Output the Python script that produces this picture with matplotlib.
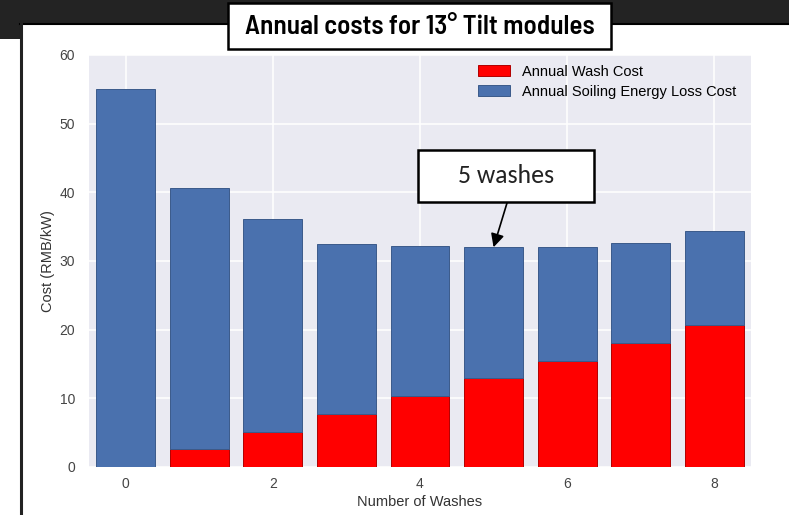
import matplotlib
matplotlib.use("Agg")
import matplotlib.pyplot as plt
from matplotlib.patches import Rectangle
from matplotlib.lines import Line2D

plt.rcParams['font.family'] = ['Liberation Sans', 'DejaVu Sans']

# Data: annual costs per number of washes (RMB/kW)
washes = [0, 1, 2, 3, 4, 5, 6, 7, 8]
wash_cost = [0.0, 2.58, 5.16, 7.74, 10.32, 12.9, 15.48, 18.06, 20.64]
soiling_cost = [55.0, 38.1, 31.0, 24.8, 21.9, 19.1, 16.6, 14.5, 13.7]
xticks = [0, 2, 4, 6, 8]
yticks = [0, 10, 20, 30, 40, 50, 60]

W, H = 789, 515
fig = plt.figure(figsize=(W / 100, H / 100), dpi=100, facecolor='white')


def fx(px):
    return px / W


def fy(py):
    return 1 - py / H


# Dark header strip and frame
fig.patches.append(Rectangle((0, fy(23)), 1, 23 / H, transform=fig.transFigure,
                             facecolor='#232323', edgecolor='none', zorder=0))
fig.patches.append(Rectangle((0, fy(39)), fx(20), 39 / H, transform=fig.transFigure,
                             facecolor='#232323', edgecolor='none', zorder=0))
fig.lines.append(Line2D([fx(20), 1], [fy(23.5), fy(23.5)], transform=fig.transFigure,
                        color='black', lw=1.5, zorder=1))
fig.lines.append(Line2D([fx(21), fx(21)], [fy(23), 0], transform=fig.transFigure,
                        color='#222222', lw=2.2, zorder=1))

ax = fig.add_axes([fx(89), fy(467), fx(751) - fx(89), fy(55) - fy(467)])
ax.set_facecolor('#EAEAF2')
for s in ax.spines.values():
    s.set_visible(False)
ax.grid(True, color='white', lw=1.1)
ax.set_axisbelow(True)

ax.bar(washes, wash_cost, width=0.8, color='#FF0000', edgecolor='#b00000',
       lw=0.7, label='Annual Wash Cost')
ax.bar(washes, soiling_cost, width=0.8, bottom=wash_cost, color='#4A71AE',
       edgecolor='#3b5a8a', lw=0.7, label='Annual Soiling Energy Loss Cost')

ax.set_xlim(-0.5, 8.5)
ax.set_ylim(0, 60)
ax.set_xticks(xticks)
ax.set_yticks(yticks)
ax.tick_params(axis='y', length=0, labelsize=10, colors='#444444', pad=10)
ax.tick_params(axis='x', length=0, labelsize=10, colors='#444444', pad=7)
ax.set_xlabel('Number of Washes', fontsize=10.5, color='#333333', labelpad=3)
ax.set_ylabel('Cost (RMB/kW)', fontsize=10.5, color='#333333', labelpad=3)

ax.legend(loc='upper left', bbox_to_anchor=(fx(478), fy(64.5)),
          bbox_transform=fig.transFigure, frameon=False, fontsize=10.5,
          borderpad=0, borderaxespad=0, handlelength=2.2, handletextpad=0.8,
          labelspacing=0.42)

# Title box
fig.patches.append(Rectangle((fx(228), fy(49)), fx(611) - fx(228), (49 - 3) / H,
                             transform=fig.transFigure, facecolor='white',
                             edgecolor='black', lw=1.8, zorder=3))
fig.text(fx(419.5), fy(27.5), 'Annual costs for 13° Tilt modules',
         family=['Barlow Semi Condensed', 'IBM Plex Sans Condensed', 'DejaVu Sans'],
         weight=600, fontsize=19.5, ha='center', va='center', zorder=4)

# Callout box pointing to the 5-wash bar
fig.patches.append(Rectangle((fx(418), fy(202)), fx(594) - fx(418), (202 - 150) / H,
                             transform=fig.transFigure, facecolor='white',
                             edgecolor='black', lw=1.8, zorder=3))
fig.text(fx(506), fy(176), '5 washes', family=['Carlito', 'Lato', 'DejaVu Sans'],
         fontsize=18.5, color='#222222', ha='center', va='center', zorder=4)
total5 = wash_cost[5] + soiling_cost[5]
ax.annotate('', xy=(5, total5), xycoords='data', xytext=(507, H - 203),
            textcoords='figure pixels',
            arrowprops=dict(arrowstyle='-|>', color='black', lw=1.2,
                            mutation_scale=20, shrinkA=0, shrinkB=0))

fig.savefig('out.png', dpi=100, facecolor='white')
